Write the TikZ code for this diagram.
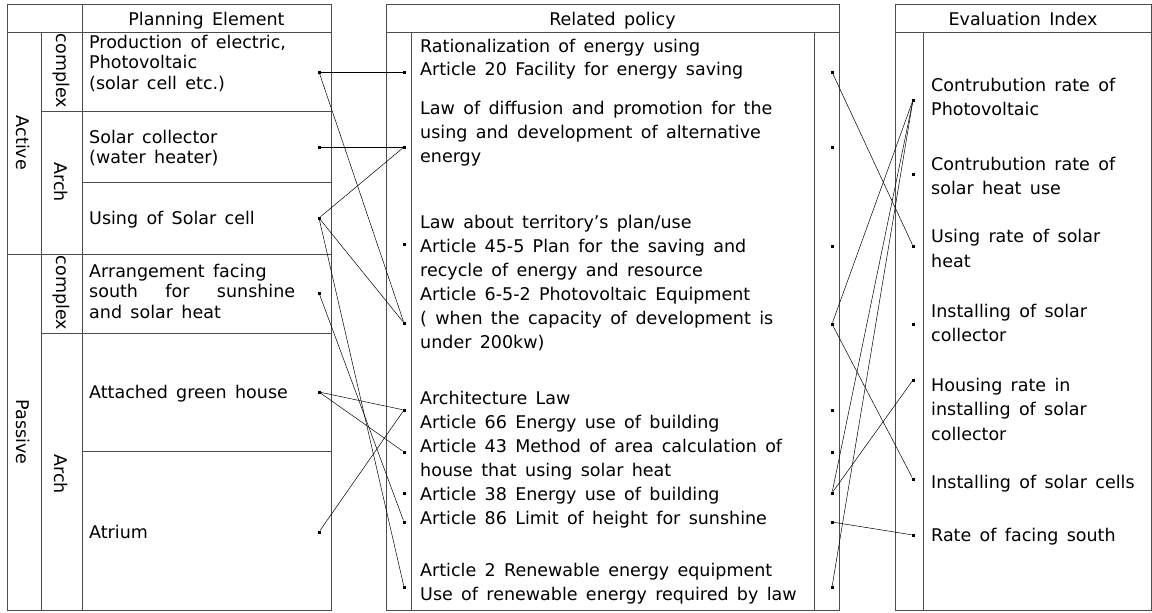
\documentclass[tikz,border=0pt]{standalone}
\usepackage{fontspec}
\setmainfont{DejaVu Sans}[WordSpace=1.5]
\newcommand\fsz{\fontsize{17.5pt}{24pt}\selectfont}
\newcommand\blk[2]{\parbox[t]{430pt}{\fsz\setlength{\baselineskip}{#1}#2}}
\tikzset{
  grid/.style={line width=0.8pt, draw=black!70},
  dot/.style={rectangle, fill=black, minimum size=3pt, inner sep=0pt, outer sep=0pt},
  conn/.style={line width=0.5pt, draw=black},
  txt/.style={anchor=base west, inner sep=0pt, font=\fsz},
  hdr/.style={anchor=base, inner sep=0pt, font=\fsz},
  vlab/.style={rotate=-90, inner sep=0pt, font=\fsz},
}
\begin{document}
\begin{tikzpicture}[x=1pt,y=-1pt]
\useasboundingbox (0,0) rectangle (1152,613);
% ---------- left table ----------
\draw[grid] (7,4) rectangle (331,610);
\draw[grid] (7,32) -- (331,32);
\draw[grid] (82,4) -- (82,610);
\draw[grid] (41,32) -- (41,610);
\draw[grid] (41,111) -- (331,111);
\draw[grid] (82,182) -- (331,182);
\draw[grid] (7,254) -- (331,254);
\draw[grid] (41,333) -- (331,333);
\draw[grid] (82,451) -- (331,451);
% ---------- middle table ----------
\draw[grid] (386,4) rectangle (839,610);
\draw[grid] (386,32) -- (839,32);
\draw[grid] (411,32) -- (411,610);
\draw[grid] (814,32) -- (814,610);
% ---------- right table ----------
\draw[grid] (895,4) rectangle (1151,610);
\draw[grid] (895,32) -- (1151,32);
\draw[grid] (923,32) -- (923,610);
% headers
\node[hdr] (hpe) at (206.5,25) {Planning Element};
\node[hdr] (hrp) at (612.5,25) {Related policy};
\node[hdr] (hei) at (1023,25) {Evaluation Index};
% rotated labels
\node[vlab] (vact) at (23,143) {Active};
\node[vlab] (vpas) at (23,432) {Passive};
\node[vlab] (vc1) at (61,71) {complex};
\node[vlab] (va1) at (61,182) {Arch};
\node[vlab] (vc2) at (61,293) {complex};
\node[vlab] (va2) at (61,474) {Arch};
% left texts
\node[txt] (t1) at (89,48) {\blk{20.5pt}{Production of electric,\\Photovoltaic\\(solar cell etc.)}};
\node[txt] (t2) at (89,143) {\blk{20.5pt}{Solar collector\\(water heater)}};
\node[txt] (t3) at (89,224.5) {\blk{20.5pt}{Using of Solar cell}};
\node[txt] (t4) at (89,277) {\blk{20.5pt}{Arrangement facing\\\makebox[206pt][s]{south for sunshine}\\and solar heat}};
\node[txt] (t5) at (89,398.5) {\blk{20.5pt}{Attached green house}};
\node[txt] (t6) at (89,538.5) {\blk{20.5pt}{Atrium}};
% middle texts
\node[txt] (p1) at (420,52) {\blk{24pt}{Rationalization of energy using\\Article 20 Facility for energy saving}};
\node[txt] (p2) at (420,114) {\blk{24pt}{Law of diffusion and promotion for the\\using and development of alternative\\energy}};
\node[txt] (p3) at (420,228.5) {\blk{24pt}{Law about territory's plan/use\\Article 45-5 Plan for the saving and\\recycle of energy and resource\\Article 6-5-2 Photovoltaic Equipment\\( when the capacity of development is\\under 200kw)}};
\node[txt] (p4) at (420,404.5) {\blk{24pt}{Architecture Law\\Article 66 Energy use of building\\Article 43 Method of area calculation of\\house that using solar heat\\Article 38 Energy use of building\\Article 86 Limit of height for sunshine}};
\node[txt] (p5) at (420,576.5) {\blk{24pt}{Article 2 Renewable energy equipment\\Use of renewable energy required by law}};
% right texts
\node[txt] (e1) at (931,91.5) {\blk{24.5pt}{Contrubution rate of\\Photovoltaic}};
\node[txt] (e2) at (931,170) {\blk{24.5pt}{Contrubution rate of\\solar heat use}};
\node[txt] (e3) at (931,242.5) {\blk{24.5pt}{Using rate of solar\\heat}};
\node[txt] (e4) at (931,317) {\blk{24.5pt}{Installing of solar\\collector}};
\node[txt] (e5) at (931,391) {\blk{24.5pt}{Housing rate in\\installing of solar\\collector}};
\node[txt] (e6) at (931,488) {\blk{24.5pt}{Installing of solar cells}};
\node[txt] (e7) at (931,541) {\blk{24.5pt}{Rate of facing south}};
% dots
\foreach \n/\y in {1/72,2/147,3/218,4/293,5/392,6/532} \node[dot] (l\n) at (319,\y) {};
\foreach \n/\y in {1/72,2/147,3/244,4/323,5/410,6/452,7/493,8/522,9/587} \node[dot] (ml\n) at (404,\y) {};
\foreach \n/\y in {1/72,2/147,3/246,4/324,5/410,6/452,7/493,8/522,9/587} \node[dot] (mr\n) at (832,\y) {};
\foreach \n/\y in {1/100,2/174,3/246,4/324,5/380,6/479,7/535} \node[dot] (r\n) at (913,\y) {};
% connectors left -> middle
\draw[conn] (l1) -- (ml1);
\draw[conn] (l1) -- (ml4);
\draw[conn] (l2) -- (ml2);
\draw[conn] (l3) -- (ml2);
\draw[conn] (l3) -- (ml4);
\draw[conn] (l3) -- (ml9);
\draw[conn] (l4) -- (ml8);
\draw[conn] (l5) -- (ml5);
\draw[conn] (l5) -- (ml6);
\draw[conn] (l6) -- (ml5);
% connectors middle -> right
\draw[conn] (mr1) -- (r3);
\draw[conn] (mr4) -- (r1);
\draw[conn] (mr4) -- (r6);
\draw[conn] (mr7) -- (r1);
\draw[conn] (mr7) -- (r5);
\draw[conn] (mr9) -- (r1);
\draw[conn] (mr8) -- (r7);
\end{tikzpicture}
\end{document}
